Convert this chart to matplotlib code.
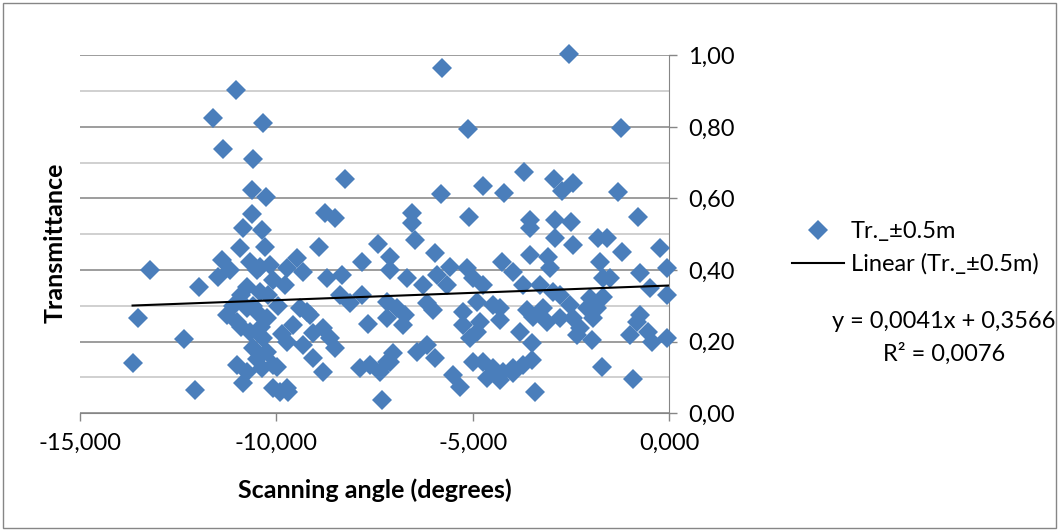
import numpy as np
import matplotlib.pyplot as plt
from matplotlib.ticker import MultipleLocator, FuncFormatter
from matplotlib.patches import Rectangle

plt.rcParams['font.family'] = ['Lato', 'DejaVu Sans']

# scanning angle (degrees) and transmittance
angle = [-13.66, -13.51, -13.21, -12.34, -12.06, -11.98,
         -11.02, -11.60, -10.33, -11.35, -10.59, -10.61, -10.25, -10.61, -10.84, -10.36,
         -10.28, -10.92, -11.37, -11.48, -11.17, -10.66, -10.41, -10.15, -10.74, -10.41,
         -10.08, -11.25, -10.99, -10.74, -10.48, -10.23, -10.66, -10.33, -10.59, -10.23,
         -10.99, -10.74, -10.84, -10.36, -10.08, -10.08,
         -10.50, -10.20, -10.60, -10.40, -10.90, -10.50, -9.95, -9.85, -10.90, -11.10,
         -9.77, -9.21, -9.06, -9.97, -9.69,
         -8.91, -7.40, -6.46, -7.81, -7.10, -7.10, -5.95, -9.47, -9.72, -9.31,
         -8.70, -8.32, -6.67, -6.26, -5.90, -5.57, -5.14, -4.99, -5.65,
         -8.37, -8.12, -7.81, -7.18, -6.92, -6.72, -6.16, -6.01, -5.24, -4.89,
         -9.39, -9.13, -9.57, -7.66, -7.18, -6.77, -5.24, -5.06, -4.89,
         -8.80, -8.63, -8.50, -9.72, -9.31, -9.06, -8.80,
         -6.41, -6.16, -5.95, -7.02, -7.10, -7.86, -7.61, -7.35, -7.18,
         -5.50, -5.32, -4.99, -9.72, -9.90, -7.30,
         -8.75, -8.50, -8.24, -6.54, -6.54, -5.78, -5.11, -5.80, -5.09,
         -2.54, -1.22, -3.69, -4.73, -4.20, -2.93, -2.72, -2.44, -1.30, -0.79,
         -3.54, -2.90, -2.49,
         -3.54, -2.90, -2.44, -1.81, -1.58, -1.20, -0.23,
         -4.25, -3.97, -3.54, -3.08, -3.03, -1.76, -0.74, -0.05, -1.68, -1.50,
         -3.72, -3.28, -2.95, -2.77, -0.48, -0.05, -2.01, -1.68,
         -4.73, -4.48, -4.30, -3.61, -3.21, -2.52, -2.09, -1.83,
         -4.81, -4.30, -3.46, -3.10, -2.77, -2.44, -2.26, -1.93, -0.74, -0.81,
         -3.79, -2.34, -1.96, -0.99, -0.53, -0.43, -0.05, -3.49,
         -4.73, -4.48, -4.22, -3.97, -3.72, -3.49, -4.63, -4.30, -3.97,
         -1.70, -0.92, -3.41]
trans = [0.140, 0.266, 0.400, 0.207, 0.064, 0.352,
         0.903, 0.825, 0.811, 0.738, 0.710, 0.624, 0.604, 0.557, 0.517, 0.512,
         0.464, 0.462, 0.428, 0.380, 0.400, 0.422, 0.408, 0.414, 0.352, 0.338,
         0.372, 0.274, 0.255, 0.294, 0.283, 0.266, 0.227, 0.210, 0.182, 0.171,
         0.134, 0.115, 0.084, 0.126, 0.134, 0.070,
         0.400, 0.330, 0.300, 0.240, 0.240, 0.150, 0.300, 0.220, 0.330, 0.300,
         0.358, 0.283, 0.224, 0.129, 0.059,
         0.464, 0.473, 0.484, 0.422, 0.436, 0.400, 0.448, 0.434, 0.406, 0.394,
         0.378, 0.386, 0.378, 0.358, 0.386, 0.408, 0.406, 0.378, 0.358,
         0.330, 0.308, 0.330, 0.310, 0.294, 0.274, 0.308, 0.288, 0.283, 0.310,
         0.294, 0.274, 0.246, 0.249, 0.266, 0.246, 0.246, 0.210, 0.227,
         0.238, 0.210, 0.182, 0.199, 0.190, 0.154, 0.115,
         0.171, 0.190, 0.154, 0.168, 0.143, 0.126, 0.134, 0.115, 0.143,
         0.106, 0.073, 0.143, 0.070, 0.059, 0.036,
         0.559, 0.545, 0.655, 0.559, 0.531, 0.965, 0.794, 0.613, 0.548,
         1.004, 0.797, 0.674, 0.635, 0.615, 0.655, 0.621, 0.643, 0.618, 0.548,
         0.540, 0.540, 0.534,
         0.517, 0.490, 0.470, 0.490, 0.490, 0.450, 0.462,
         0.422, 0.394, 0.442, 0.436, 0.406, 0.422, 0.392, 0.406, 0.378, 0.378,
         0.358, 0.358, 0.338, 0.330, 0.350, 0.330, 0.322, 0.324,
         0.358, 0.302, 0.294, 0.288, 0.294, 0.302, 0.294, 0.294,
         0.255, 0.260, 0.269, 0.255, 0.266, 0.266, 0.238, 0.266, 0.274, 0.255,
         0.227, 0.218, 0.204, 0.218, 0.227, 0.199, 0.210, 0.196,
         0.143, 0.126, 0.115, 0.126, 0.134, 0.148, 0.098, 0.092, 0.112,
         0.129, 0.095, 0.059]

slope = 0.0041
intercept = 0.3566
r2 = 0.0076
series_name = 'Tr._±0.5m'

fig = plt.figure(figsize=(10.59, 5.31), dpi=100)
ax = fig.add_axes([0.0755, 0.2222, 0.5562, 0.6733])

ax.plot(angle, trans, 'D', color='#4A7EBB', ms=10, mew=0, label=series_name,
        zorder=3, clip_on=False)
xt = np.array([min(angle), 0])
ax.plot(xt, slope * xt + intercept, '-', color='black', lw=1.5,
        label='Linear (' + series_name + ')', zorder=4)

ax.set_xlim(-15, 0)
ax.set_ylim(0, 1)
ax.yaxis.tick_right()
ax.xaxis.set_major_locator(MultipleLocator(5))
ax.yaxis.set_major_locator(MultipleLocator(0.2))
ax.yaxis.set_minor_locator(MultipleLocator(0.1))
ax.xaxis.set_major_formatter(FuncFormatter(lambda v, p: f'{v:.3f}'.replace('.', ',')))
ax.yaxis.set_major_formatter(FuncFormatter(lambda v, p: f'{v:.2f}'.replace('.', ',')))
ax.tick_params(which='major', direction='out', length=6, width=1, color='#868686',
               labelsize=17, pad=8)
ax.tick_params(which='minor', length=0)

ax.set_axisbelow(True)
ax.grid(which='major', axis='y', color='#8c8c8c', lw=1.2)
ax.grid(which='minor', axis='y', color='#c8c8c8', lw=1.2)
ax.spines['left'].set_visible(False)
ax.spines['top'].set_visible(False)
ax.spines['right'].set_color('#868686')
ax.spines['bottom'].set_color('#868686')

fig.text(0.052, 0.543, 'Transmittance', rotation=90, ha='center', va='center',
         fontsize=18, fontweight='bold')
fig.text(0.3535, 0.077, 'Scanning angle (degrees)', ha='center', va='center',
         fontsize=18, fontweight='bold')

ax.legend(loc='upper left', bbox_to_anchor=(792 / 1059, 1 - 221 / 531),
          bbox_transform=fig.transFigure, frameon=False, fontsize=17,
          borderpad=0, borderaxespad=0, handlelength=2.2, handletextpad=0.3,
          labelspacing=0.48)

fig.text(944 / 1059, 1 - 322 / 531, f'y = {slope:.4f}x + {intercept:.4f}'.replace('.', ','),
         ha='center', va='center', fontsize=17)
fig.text(944 / 1059, 1 - 354 / 531, f'R² = {r2:.4f}'.replace('.', ','),
         ha='center', va='center', fontsize=17)

fig.add_artist(Rectangle((0.003, 0.005), 0.994, 0.99, transform=fig.transFigure,
                         fill=False, ec='#868686', lw=1))

plt.savefig('out.png', dpi=100)
